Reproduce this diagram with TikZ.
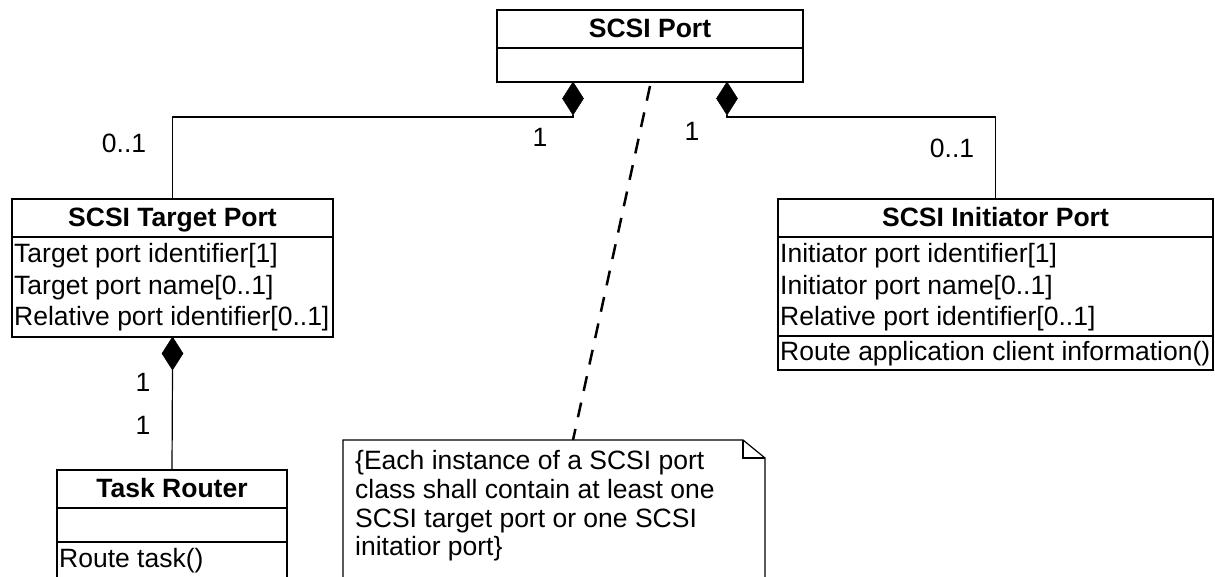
\documentclass[tikz,border=0pt]{standalone}
\usepackage{fontspec}
\setmainfont{Liberation Sans}
\usetikzlibrary{shapes.geometric}
\begin{document}
\begin{tikzpicture}[x=1pt,y=-1pt,
  cls/.style={draw, line width=1.6pt, inner sep=0pt, outer sep=0pt},
  divider/.style={line width=1.6pt},
  ttl/.style={font=\fontsize{26.5}{31}\selectfont\bfseries, anchor=base, inner sep=0pt},
  row/.style={font=\fontsize{26.5}{31}\selectfont, anchor=base west, inner sep=0pt},
  lbl/.style={font=\fontsize{26.5}{31}\selectfont, inner sep=0pt},
  comp/.style={diamond, fill=black, draw=black, line width=0.5pt, inner sep=0pt, outer sep=0pt, minimum width=21pt, minimum height=33pt, anchor=north},
  conn/.style={line width=1.2pt},
  dep/.style={line width=2.5pt, dash pattern=on 15pt off 12pt},
  noteline/.style={line width=1.2pt}]
\useasboundingbox (0,0) rectangle (1215,577);
\clip (0,0) rectangle (1215,577);

% SCSI Port
\node[cls, minimum width=306pt, minimum height=72pt] (sp) at (650,46) {};
\draw[divider] (497,48) -- (803,48);
\node[ttl] (spt) at (650,38) {SCSI Port};

% SCSI Target Port
\node[cls, minimum width=321pt, minimum height=138pt] (tp) at (172.5,268) {};
\draw[divider] (12,237) -- (333,237);
\node[ttl] (tpt) at (172.5,227) {SCSI Target Port};
\node[row] (tp1) at (14,263) {Target port identifier[1]};
\node[row] (tp2) at (14,294.5) {Target port name[0..1]};
\node[row] (tp3) at (14,325.5) {Relative port identifier[0..1]};

% SCSI Initiator Port
\node[cls, minimum width=435pt, minimum height=171pt] (ip) at (995.5,284.5) {};
\draw[divider] (778,237) -- (1213,237);
\draw[divider] (778,336) -- (1213,336);
\node[ttl] (ipt) at (995.5,227) {SCSI Initiator Port};
\node[row] (ip1) at (780,263) {Initiator port identifier[1]};
\node[row] (ip2) at (780,294.5) {Initiator port name[0..1]};
\node[row] (ip3) at (780,325.5) {Relative port identifier[0..1]};
\node[row] (ip4) at (780,360) {Route application client information()};

% Task Router
\node[cls, minimum width=230pt, minimum height=130pt] (tr) at (172,535) {};
\draw[divider] (57,508) -- (287,508);
\draw[divider] (57,542) -- (287,542);
\node[ttl] (trt) at (172,497.5) {Task Router};
\node[row] (tr1) at (59,567) {Route task()};

% composition diamonds
\node[comp] (d1) at (573,82) {};
\node[comp] (d2) at (727,82) {};
\node[comp] (d3) at (172.5,337) {};

% connectors
\draw[conn] (d1.south) -- ++(0,2) -| (tp.north);
\draw[conn] (d2.south) -- ++(0,2) -| (ip.north);
\draw[conn] (d3.south) -- (tr.north);

% multiplicities
\node[lbl] (m1) at (124,143.5) {0..1};
\node[lbl] (m2) at (540,137) {1};
\node[lbl] (m3) at (692,131) {1};
\node[lbl] (m4) at (952,148) {0..1};
\node[lbl] (m5) at (143,382) {1};
\node[lbl] (m6) at (143,425) {1};

% note
\draw[noteline] (343,600) -- (343,440) -- (743,440) -- (765,458) -- (765,600);
\draw[noteline] (743,440) -- (743,458) -- (765,458);
\node[row] (n1) at (355,469.5) {\{Each instance of a SCSI port};
\node[row] (n2) at (355,498) {class shall contain at least one};
\node[row] (n3) at (355,527) {SCSI target port or one SCSI};
\node[row] (n4) at (355,555.5) {initatior port\}};

% dependency
\coordinate (dstart) at (650,86);
\coordinate (dend) at (573,440);
\draw[dep] (dstart) -- (dend);
\end{tikzpicture}
\end{document}
